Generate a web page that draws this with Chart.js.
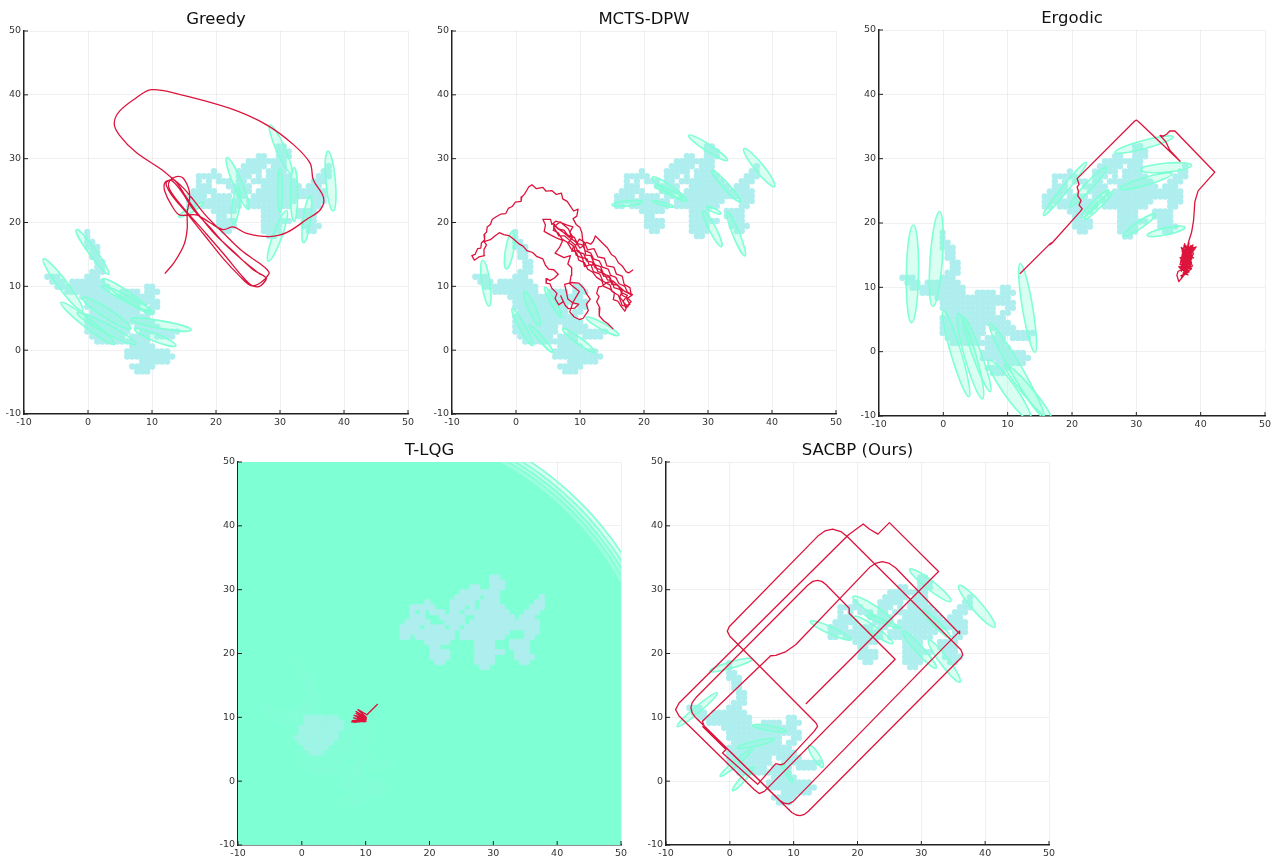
<!DOCTYPE html>
<html>
<head>
<meta charset="utf-8">
<title>Trajectories</title>
<script src="https://cdn.jsdelivr.net/npm/chart.js@4/dist/chart.umd.min.js"></script>
<style>
  html, body { margin: 0; padding: 0; background: #fff; }
  canvas { position: absolute; }
</style>
</head>
<body>
<script>
// tick labels shared by every panel
const tickValues = [-10, 0, 10, 20, 30, 40, 50];

const cloudCell = 0.78;
const upperOrigin = [14.6, 33.1];
const upperRuns = [[1,19,20],[2,19,21],[3,15,16],[3,19,21],[4,13,17],[4,18,20],[5,12,16],[5,18,20],[5,29,29],[6,6,6],[6,11,15],[6,17,20],[6,28,29],[7,3,5],[7,6,7],[7,11,13],[7,15,15],[7,17,21],[7,27,29],[8,3,3],[8,5,5],[8,7,9],[8,11,12],[8,14,16],[8,17,22],[8,26,28],[9,3,5],[9,9,10],[9,11,13],[9,16,23],[9,25,27],[10,2,6],[10,10,13],[10,15,23],[10,24,28],[11,1,4],[11,6,9],[11,11,12],[11,14,24],[11,25,28],[12,1,11],[12,13,22],[12,26,28],[13,1,2],[13,4,11],[13,13,21],[13,26,27],[14,6,10],[14,16,19],[14,23,26],[15,7,8],[15,16,19],[15,23,26],[16,7,10],[16,16,21],[16,24,26],[17,7,10],[17,16,19],[17,24,27],[18,8,9],[18,16,19],[18,25,26],[19,17,18]];
const lowerOrigin = [-6.74, 18.9];
const lowerRuns = [[0,8,8],[1,8,8],[2,8,9],[3,8,10],[4,9,10],[5,9,10],[6,10,11],[7,10,11],[8,9,11],[9,0,2],[9,8,10],[10,1,3],[10,5,11],[11,2,12],[11,20,21],[12,4,12],[12,15,18],[12,20,22],[13,7,21],[14,8,19],[14,20,22],[15,8,18],[15,21,22],[16,9,18],[16,20,21],[17,8,18],[17,19,20],[18,8,17],[18,18,21],[19,8,16],[19,18,22],[20,8,16],[20,19,26],[21,9,15],[21,17,20],[21,22,25],[22,10,16],[22,17,20],[23,17,21],[24,16,24],[25,16,25],[26,19,24],[27,17,21],[28,18,20]];
// the part of the lower cloud that still shows through in the T-LQG panel
const lowerCoreRuns = [[11,9,15],[12,9,16],[13,8,16],[14,8,15],[15,7,15],[16,8,14],[17,9,13],[18,10,12]];

// robot paths
const greedyPath = [[12,12],[13.5,13.8],[15,16.5],[15.5,19],[15.5,21.5],[15.9,24],[15.7,25.4],[14.8,27],[13.8,27.2],[12.8,26.6],[12.6,25.6],[13.5,24],[15.4,21.7],[18.5,18.2],[21.6,14.6],[23.9,11.8],[25.5,10.2],[26.8,10],[27.8,11],[27.8,11.4],[25.8,12.6],[22.7,15.5],[20,18],[17.4,21.1],[15.4,23.9],[13.4,26.7],[12.2,26.2],[13,24.4],[15.4,21.5],[18.2,18],[21,14.5],[23.7,11.6],[25.5,10.1],[27,10.6],[28.3,12],[28,12.6],[26.8,13.6],[24,15.6],[21,18.5],[18.5,21],[16.5,23.5],[14.8,25.5],[13.2,26.9],[11.2,28.5],[7.5,31],[4.9,33.7],[4.1,35.5],[4.9,37.4],[7.5,39.5],[9.9,40.8],[13.8,40.2],[22.1,37.9],[27.9,35.3],[32.1,32.2],[34.7,29.3],[35.2,26.7],[36.8,23.9],[36.3,22],[34.2,20.5],[31,18.4],[28.4,17.8],[24.8,18.3],[22.7,19.3],[21.1,18.9],[19,20],[16.9,21.2],[14.3,21.2],[13,22.8],[12,24.9],[12,26.2],[13,26.6],[14.5,25],[16.5,22],[19,19.3],[21.5,16.5],[24.5,13.8],[27,11.8]];
const mctsPath = [[18.3,12.6],[17.6,12.1],[17.2,12.3],[16.6,13.2],[16,13.7],[15.5,14.6],[14.9,15],[14.3,16],[13.7,16.6],[13,17.3],[12.4,17.9],[12.1,17.1],[11.7,16.6],[11,16.9],[10.6,16.4],[10.4,17.4],[10.3,18.4],[10,19.2],[9.4,19.7],[8.9,20.6],[9.5,21],[9.7,22.1],[9,21.8],[8.6,22.4],[8,23.3],[7.3,23.7],[7.1,24.6],[6.3,24.4],[5.6,25],[4.7,24.9],[4.2,25.5],[3.2,25.3],[2.5,25.9],[2,25.6],[1.6,24.9],[1.3,24.4],[0.9,24],[0.8,23.3],[-0.1,23.2],[-0.6,22.5],[-1.2,22.2],[-1.6,21.4],[-2.4,21.3],[-3.1,20.9],[-3.7,20.5],[-4,19.7],[-4.5,19.3],[-4.6,18.5],[-5,18.1],[-4.9,17.3],[-5.4,16.8],[-5.5,16],[-6,15.9],[-6.4,15],[-6.9,14.8],[-6.5,14.1],[-5.8,14.6],[-4.9,14.8],[-5,15.8],[-4.6,16.5],[-5,17],[-4,17.3],[-3.3,17.9],[-2.6,18.4],[-1.9,18.1],[-1,17.9],[-0.4,17.4],[0.4,16.7],[1.1,16.3],[1.7,15.6],[2.6,15.3],[3.2,14.7],[4.2,14.3],[4.6,13.3],[5.1,12.7],[5.9,12.6],[6.6,11.9],[6,11.3],[5.3,10.9],[4.8,11.2],[4.7,10.5],[5.3,10.4],[5.6,9.7],[6.4,8.9],[6.1,8.1],[6.7,7.1],[7.4,7.6],[7,8.5],[7.7,7],[8.2,6.5],[9.2,6.6],[9.8,7.2],[8.9,7.4],[8.1,8],[7.9,9],[7.6,10.3],[8.6,10.6],[9.8,10.5],[10.6,9.7],[11.1,8.7],[11.6,8],[11,7.2],[11.3,6.2],[10.5,5],[9.9,4.8],[9.1,5.2],[8.4,6],[8.9,7.5],[9.9,9.2],[8.4,10.4],[8.6,11.7],[8.7,12.9],[8.1,13.5],[8.5,14.8],[7.5,14.5],[6.1,15.2],[6.8,16.1],[7.3,17.2],[6.3,17.6],[5.3,18.1],[4.4,18.6],[4.6,19.6],[4.2,20.5],[5.4,20.5],[5.6,19.7],[6.2,20.2],[7.2,19.9],[8,19.6],[8.9,19.3],[8.4,18.5],[8.9,17.7],[8.2,16.9],[9,16.3],[8.7,15.5],[9.8,15.6],[10.4,14.5],[11.1,14.3],[11.4,13.4],[12.4,13.3],[12.8,12.3],[13.8,12],[14.3,11],[15,10.9],[15.3,9.8],[16.3,9.5],[16.6,8.6],[17.5,8.1],[18,7.6],[17.4,7],[17,6.1],[16.4,6.9],[15.9,7.7],[15.2,7.9],[15.4,9],[14.6,9.6],[13.7,10],[13.4,10.9],[12.6,11.4],[12,12.2],[11.2,12.7],[10.7,13.7],[9.8,14.1],[9.5,15.2],[8.6,15.9],[8,16.9],[7.2,17.4],[6.6,18.4],[5.8,18.8],[5.9,19.8],[6.6,19],[7.5,18.8],[8.1,18],[9.1,17.7],[9.6,16.7],[10.4,16.5],[10.8,15.6],[11.7,15.2],[12.1,14.3],[13,14],[13.5,13],[14.4,12.7],[14.8,11.7],[15.6,11.4],[16.1,10.4],[17,10],[17.4,9.1],[18.2,8.7],[17.3,8],[17.8,7.2],[17.1,6.7],[16.8,7.6],[16.2,8.3],[16.6,9.3],[15.8,10.2],[15,10.3],[14.6,11.4],[13.7,11.6],[13.2,12.6],[12.4,12.9],[11.9,13.8],[11,14],[10.6,15.1],[9.7,15.4],[9.2,16.5],[8.4,17.2],[7.6,17.9],[6.7,17.9],[5.9,19.3],[6.9,20.1],[8.2,19],[8.7,17.7],[7.8,18.2],[6.6,19],[5.9,19.6],[7,18.8],[8.4,17.6],[9.3,17],[10,16],[10.6,16.4],[10.9,14.9],[11.7,14.8],[12.3,13.4],[13.2,13.1],[13.7,11.9],[14.6,11.6],[15.1,10.4],[16,10.1],[16.5,9],[17.4,8.6],[16.7,7.6],[17.5,6.8],[16.6,7],[16,8.6],[15,9.2],[14.7,10.2],[13.6,10.8],[13.1,11.9],[12.1,12.3],[11.7,13.4],[10.7,13.1],[10.4,14.4],[9.4,14.9],[9.1,16],[9.9,17.4],[10.7,16.9],[11.2,15.7],[12.2,15.9],[12.8,14.6],[13.8,14.4],[14.2,13.2],[15.3,13],[15.7,11.9],[16.6,11.6],[16.9,10.3],[17.8,9.8],[18,8.7],[17,9.2],[16.2,9.9],[15.2,10.8],[14.2,10.6],[13.4,10],[12.9,9.9],[12.6,8.9],[13,8.4],[12.6,7.6],[13.1,6.6],[13,5.4],[13.7,4.6],[14.4,4.1],[15.2,3.3]];
const ergodicPath = [[11.9,12.1],[16.6,16.8],[17,17],[16.5,16.6],[16.9,16.9],[21.2,21.7],[21.6,22.2],[21.1,22.8],[21.4,23.5],[20.9,24.2],[21,24.9],[20.8,25.6],[21.1,26],[20.8,26.9],[29.8,35.9],[30,36],[30.4,35.7],[36.8,29.6],[35.2,31.3],[34.6,32.6],[33.7,33.6],[34.2,33.5],[34.7,33.8],[35.2,34.3],[36,34.3],[42.2,27.9],[39.6,25],[39.1,23.3],[38.9,20.4],[38.6,18.6],[38.1,17],[37.6,14.5],[38.5,16.5],[37.3,15],[38.9,16.2],[37.2,13.5],[38.2,15.8],[37,12.5],[38,14],[36.8,13.5],[37.5,16.8],[38,12.5],[37,11.5],[37.8,13],[36.5,12.5],[36.3,11.9],[36.6,10.9],[37.5,12],[38.3,13.5],[37.4,14.2],[38.7,15],[37,16.2],[38.1,13],[37.5,15.5],[39.3,16.3],[38,14.5],[37.2,13],[38.4,14.8],[37.6,12.2],[38.6,13.9],[37.3,14.6],[38.2,16.9],[37.8,15],[38.8,16.6],[37.9,13.7],[37.1,14.9],[38.5,15.4],[37.4,13.3],[38.2,14.2],[37.3,15.8],[38.9,15.3],[37.7,12.8],[36.9,14.2],[38.3,12.9],[37.5,14],[38,16.3],[37.2,15.2],[38.6,14.4],[37.6,13.5],[37.9,15.9],[38.4,13.3],[37,13],[38.1,15.1],[37.4,12.7],[38.7,16],[37.8,14.1],[38.3,16.1],[37.5,13.8],[38.8,15.7],[37.1,15.6],[38.2,13.6],[37.7,16.5],[38.5,14.1],[37,14.4],[38.4,15.7],[36.8,12.9],[38.2,12.4],[36.9,11.8],[37.9,12.1],[36.6,13.2],[38.6,12.9],[37.2,11.9],[37.9,13.4],[36.8,14.6],[38.9,14.6],[37.4,15.4],[39,15.9],[37.6,16.1],[38.7,13.3],[37.3,12.3],[38.1,11.9]];
const tlqgPath = [[11.9,12.1],[10.2,10.4],[8.8,11.2],[10.1,10],[8.5,10.9],[10,9.8],[8.5,10.6],[10.1,9.9],[8.2,10.3],[9.9,9.6],[8.1,9.9],[10,9.5],[7.9,9.5],[10.1,9.7],[7.8,9.3],[9.8,9.4],[8.2,9.2],[10,9.6],[8.8,9.4],[9.9,9.9],[8.9,9.7],[10,10],[8.7,9.9],[9.9,9.3],[8.6,9.5],[10.1,9.4],[8.9,10],[9.7,9.8],[8.4,9.4],[9.9,9.5],[9,9.3],[9.8,10.1],[8.6,10.2],[9.6,9.3]];
const sacbpPath = [[11.9,12.1],[32.7,32.85],[25,40.5],[23.2,38.7],[21.85,39.5],[20.9,40.3],[18.6,38.6],[-7.95,12.25],[-8.5,11.2],[-7.95,10.2],[3.8,-1.3],[4.6,-1.95],[5.4,-1.6],[25.9,19.1],[18.7,26.3],[18.7,27.1],[18.2,27.6],[15.05,30.8],[14.4,31.3],[13.75,31.45],[13,31.3],[12.2,30.7],[-5.3,13.1],[-5.9,12.3],[-6.1,11.5],[-5.9,10.7],[-5.4,10],[7.8,-3],[8.5,-3.45],[9.2,-3.55],[9.9,-3.2],[36,23.5],[36,23.1],[26,33.4],[25,34.1],[23.9,34.4],[22.8,34.1],[21.9,33.5],[10.35,21.4],[8.8,20.3],[7.2,19.7],[6.4,19.65],[-4.3,9.4],[-4,8.6],[9.7,-4.9],[10.4,-5.3],[11,-5.4],[11.7,-5.2],[12.3,-4.7],[36.2,19.3],[36.5,19.8],[36.2,20.6],[18.5,38.2],[17.4,39.1],[16.1,39.5],[14.9,39.2],[13.9,38.5],[-0.1,24.2],[-0.4,23.5],[0,22.7],[13.5,9.1],[13.75,8.6],[13.2,7.8],[8.5,2.75],[8,2.55],[7.2,2.75],[4.35,-0.5],[-1.15,4.4],[-0.6,4.95],[-4.3,8.6]];

// belief ellipses per panel: centre x, centre y, half length, half width, angle in degrees
const greedyEllipses = [[30.1,31.5,4.1,.7,114],[37.9,26.5,4.7,.75,95],[23.4,26.1,4.4,.7,113],[23.1,22.6,2.9,.6,82],[32.2,24.4,4.2,.55,90],[30,25,3.5,.4,90],[29.6,17.9,4.2,.7,70],[34.2,20.5,3.7,.6,82],[16.1,22,2.2,.4,30],[.7,15.4,4.3,.6,126],[-3.9,10.2,5.1,.75,127],[-.05,4.2,5.3,.7,142],[2.9,5.8,4.5,.75,147],[2.9,3.4,5.2,.7,152],[6.2,8.4,4.8,.7,145],[6,8.1,4.4,.5,153],[11.4,4,4.8,.6,170],[10.5,2,3.5,.6,158]];
const mctsEllipses = [[30,31.7,3.6,.55,147],[38,28.6,3.8,.7,129],[32.8,25.7,3.3,.5,132],[24,25.2,3.3,.6,145],[23.9,24.8,2.4,.4,155],[17.4,23,2.4,.4,6],[23,22.9,1.7,.25,165],[30.7,19,3.1,.55,117],[34.4,18.2,3.7,.55,112],[30.9,21.9,1.2,.3,155],[-1,15.7,3,.65,80],[-4.7,10.5,3.6,.65,98],[2.5,6.5,2.9,.6,114],[1,3.6,3.3,.5,119],[3.9,1.8,2.8,.4,131],[5.8,7.5,2.7,.4,119],[13.5,3.75,2.9,.5,151],[9.8,1.5,3.1,.5,144]];
const ergodicEllipses = [[-4.8,12.1,7.6,.95,89],[-1.1,14.4,7.4,.95,86],[2,-.3,7,.8,106.5],[4.2,-.7,6.9,.9,106],[5.2,-.4,6.2,.7,110],[10.3,-6,5.7,1,125],[11.4,-2.9,8.4,.9,120],[13.2,-6.3,5.6,.8,130],[13.1,6.8,7,.8,99.5],[31.2,32.2,4.7,.65,15],[34.6,28.6,4,.7,5],[31.5,26.5,4.2,.6,16],[30.5,19.7,3,.55,34],[34.6,18.7,3,.55,12],[18.9,25.3,5.3,.5,51],[22.5,25.6,4.2,.6,47],[23.6,23,3,.5,45],[24.1,22.7,3,.4,45]];
const tlqgEllipses = [[8,8,50.4,50.4,0],[8,8,49.7,49.7,0],[8,8,49.1,49.1,0],[8,8,48.5,48.5,0],[8,8,47.8,47.8,0],[8,8,47.7,47.7,0],[8,8,47.6,47.6,0],[8,8,47.5,47.5,0],[8,8,47.4,47.4,0],[8,8,47.3,47.3,0],[8,8,47.2,47.2,0],[8,8,47.1,47.1,0],[8,8,47,47,0],[8,8,46.9,46.9,0]];
const sacbpEllipses = [[31.4,30.7,4.1,.7,142],[38.7,27.4,4.3,.8,131],[22.4,26.9,3.7,.7,147],[22.5,23.7,3.7,.6,145],[15.8,23.6,3.5,.55,156],[32.4,24.6,3.1,.5,135],[29.7,20.6,3.9,.6,132],[33.6,18.8,4.1,.7,127],[24,25,3,.3,160],[.2,18.2,3.5,.5,16],[-5.1,11.2,4.1,.5,40],[4.1,5.9,3,.4,13],[6.2,8.3,2.7,.4,170],[1,2.9,3.3,.4,40],[2.1,.4,2.5,.4,49],[13.5,3.9,2,.55,122],[9,1.3,1.7,.3,120]];

const crimson = "#dc143c";
const turquoise = "#afeeee";
const aquamarine = "#7fffd4";

function toPoints(list) {
    return list.map(p => ({ x: p[0], y: p[1] }));
}

// Expand the cloud runs to one scatter point per grid cell
function cloudPoints(runs, origin) {
    const pts = [];
    runs.forEach(run => {
        for (let c = run[1]; c <= run[2]; c++) {
            pts.push({ x: origin[0] + (c + 0.5) * cloudCell, y: origin[1] - (run[0] + 0.5) * cloudCell });
        }
    });
    return pts;
}

const upperCloud = cloudPoints(upperRuns, upperOrigin);
const lowerCloud = cloudPoints(lowerRuns, lowerOrigin);
const lowerCore = cloudPoints(lowerCoreRuns, lowerOrigin);

// Draws the ellipses in data space, through the chart's scales
const ellipsePlugin = {
    id: "ellipses",
    beforeDatasetsDraw(chart, args, opts) {
        if (opts.under) drawEllipses(chart, opts.list);
    },
    afterDatasetDraw(chart, args, opts) {
        if (!opts.under && args.index === 1) drawEllipses(chart, opts.list);
    },
    afterDraw(chart) {
        // short inward tick marks
        const ctx = chart.ctx, area = chart.chartArea;
        ctx.save();
        ctx.strokeStyle = "#222";
        ctx.lineWidth = 1;
        chart.scales.x.ticks.forEach(t => {
            const px = chart.scales.x.getPixelForValue(t.value);
            ctx.beginPath(); ctx.moveTo(px, area.bottom); ctx.lineTo(px, area.bottom - 4); ctx.stroke();
        });
        chart.scales.y.ticks.forEach(t => {
            const py = chart.scales.y.getPixelForValue(t.value);
            ctx.beginPath(); ctx.moveTo(area.left, py); ctx.lineTo(area.left + 4, py); ctx.stroke();
        });
        ctx.restore();
    }
};

function drawEllipses(chart, list) {
    const ctx = chart.ctx, area = chart.chartArea;
    const sx = chart.scales.x, sy = chart.scales.y;
    const unitX = Math.abs(sx.getPixelForValue(1) - sx.getPixelForValue(0));
    const unitY = Math.abs(sy.getPixelForValue(1) - sy.getPixelForValue(0));
    ctx.save();
    ctx.beginPath();
    ctx.rect(area.left, area.top, area.right - area.left, area.bottom - area.top);
    ctx.clip();
    list.forEach(e => {
        ctx.beginPath();
        ctx.ellipse(sx.getPixelForValue(e[0]), sy.getPixelForValue(e[1]), e[2] * unitX, e[3] * unitY, -e[4] * Math.PI / 180, 0, Math.PI * 2);
        ctx.fillStyle = "rgba(127,255,212,0.3)";
        ctx.fill();
        ctx.strokeStyle = aquamarine;
        ctx.lineWidth = 1.6;
        ctx.stroke();
    });
    ctx.restore();
}

function cloudSet(points, color) {
    return { data: points, pointStyle: "circle", pointRadius: 3.2, pointBorderWidth: 0, backgroundColor: color, borderColor: color };
}

function makePanel(cfg) {
    const canvas = document.createElement("canvas");
    const marginLeft = 24, marginRight = 14, marginTop = 32, marginBottom = 18;
    const w = cfg.right - cfg.left, h = cfg.bottom - cfg.top;
    canvas.style.left = (cfg.left - marginLeft) + "px";
    canvas.style.top = (cfg.top - marginTop) + "px";
    canvas.style.width = (w + marginLeft + marginRight) + "px";
    canvas.style.height = (h + marginTop + marginBottom) + "px";
    canvas.width = w + marginLeft + marginRight;
    canvas.height = h + marginTop + marginBottom;
    document.body.appendChild(canvas);

    const axis = (isX) => ({
        type: "linear", min: -10, max: 50,
        afterBuildTicks: s => { s.ticks = tickValues.map(v => ({ value: v })); },
        afterFit: s => { if (isX) s.height = marginBottom; else s.width = marginLeft; },
        border: { color: "#222", width: 1.5 },
        grid: {
            drawTicks: false,
            color: c => (c.tick && (c.tick.value === -10)) ? "rgba(0,0,0,0)" : "rgba(0,0,0,0.06)"
        },
        ticks: {
            autoSkip: false, maxRotation: 0, color: "#333", padding: 3,
            font: { family: "'DejaVu Sans'", size: 9.5 }
        }
    });

    // last dataset is painted first, so the path goes first here
    const datasets = [
        { data: toPoints(cfg.path), showLine: true, pointRadius: 0, borderColor: crimson, borderWidth: 1.3, borderJoinStyle: "round", tension: cfg.tension || 0 }
    ];
    (cfg.clouds || [cloudSet(lowerCloud, turquoise), cloudSet(upperCloud, turquoise)]).forEach(b => datasets.push(b));

    new Chart(canvas, {
        type: "scatter",
        data: { datasets: datasets },
        options: {
            responsive: false, animation: false, devicePixelRatio: 1,
            layout: { padding: { right: marginRight } },
            plugins: {
                legend: { display: false },
                tooltip: { enabled: false },
                title: {
                    display: true, text: cfg.title, color: "#111", fullSize: false,
                    font: { family: "'DejaVu Sans'", size: 16.5, weight: "normal", lineHeight: 1.2 },
                    padding: { top: 10.6, bottom: 1.6 }
                },
                ellipses: { list: cfg.ellipses, under: !!cfg.under }
            },
            scales: { x: axis(true), y: axis(false) }
        },
        plugins: [ellipsePlugin]
    });
}

makePanel({ title: "Greedy", left: 24, right: 408, top: 31, bottom: 414, path: greedyPath, ellipses: greedyEllipses, tension: 0.35 });
makePanel({ title: "MCTS-DPW", left: 452, right: 836, top: 31, bottom: 414, path: mctsPath, ellipses: mctsEllipses });
makePanel({ title: "Ergodic", left: 879, right: 1265, top: 30, bottom: 416, path: ergodicPath, ellipses: ergodicEllipses });
makePanel({
    title: "T-LQG", left: 238, right: 621, top: 462, bottom: 845, path: tlqgPath, ellipses: tlqgEllipses, under: true,
    clouds: [cloudSet(lowerCore, "rgba(175,238,238,0.55)"), cloudSet(lowerCloud, "rgba(175,238,238,0.08)"), cloudSet(upperCloud, turquoise)]
});
makePanel({ title: "SACBP (Ours)", left: 666, right: 1049, top: 462, bottom: 845, path: sacbpPath, ellipses: sacbpEllipses });
</script>
</body>
</html>
